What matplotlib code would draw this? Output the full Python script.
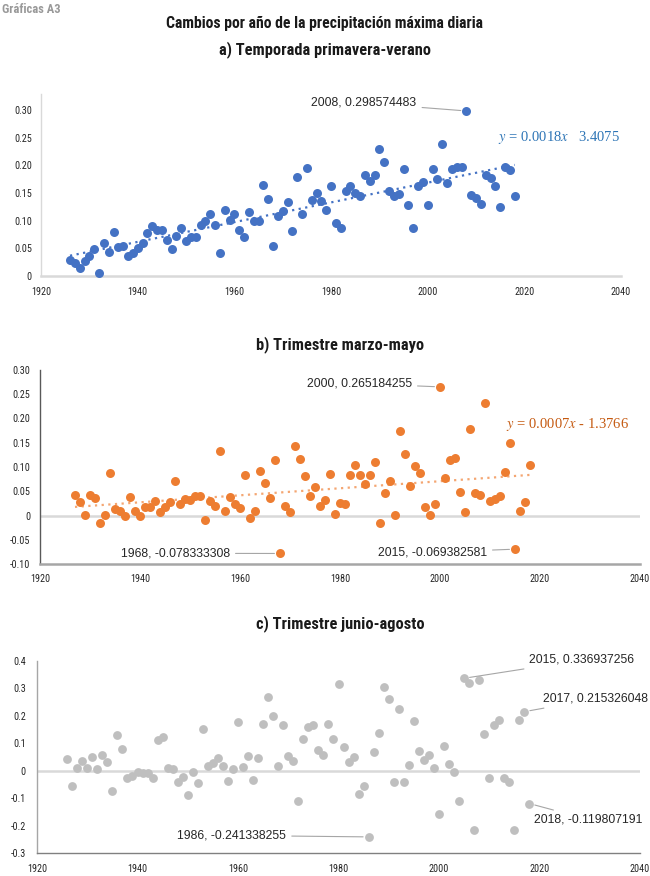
import matplotlib
matplotlib.use('Agg')
import matplotlib.pyplot as plt
import numpy as np

# ---- data ----
years_a = list(range(1926, 2019))
vals_a = [0.029, 0.024, 0.014, 0.028, 0.037, 0.049, 0.006, 0.060, 0.044, 0.080,
          0.053, 0.054, 0.036, 0.041, 0.051, 0.060, 0.077, 0.090, 0.083, 0.084,
          0.065, 0.049, 0.072, 0.087, 0.063, 0.071, 0.071, 0.092, 0.100, 0.112,
          0.093, 0.041, 0.120, 0.101, 0.112, 0.084, 0.071, 0.115, 0.100, 0.099,
          0.165, 0.140, 0.055, 0.109, 0.118, 0.134, 0.081, 0.179, 0.112, 0.195,
          0.138, 0.151, 0.136, 0.119, 0.163, 0.095, 0.087, 0.154, 0.162, 0.150,
          0.145, 0.182, 0.172, 0.183, 0.229, 0.206, 0.154, 0.144, 0.148, 0.194,
          0.128, 0.087, 0.162, 0.170, 0.128, 0.193, 0.176, 0.239, 0.168, 0.194,
          0.197, 0.198, 0.2986, 0.146, 0.142, 0.131, 0.182, 0.177, 0.162, 0.124,
          0.197, 0.192, 0.144]

years_b = list(range(1927, 2019))
vals_b = [0.0425, 0.028, 0.002, 0.043, 0.036, -0.016, 0.0014, 0.0885, 0.0137, 0.0103,
          0.000, 0.039, 0.009, -0.001, 0.018, 0.0185, 0.029, 0.0076, 0.018, 0.028,
          0.072, 0.0247, 0.035, 0.0315, 0.041, 0.041, -0.0103, 0.030, 0.020, 0.133,
          0.009, 0.0384, 0.023, 0.015, 0.084, -0.0055, 0.009, 0.091, 0.068, 0.036,
          0.115, -0.0783, 0.020, 0.0069, 0.1427, 0.1166, 0.0816, 0.041, 0.0597, 0.0206,
          0.031, 0.085, 0.0034, 0.026, 0.023, 0.083, 0.105, 0.083, 0.0645, 0.083,
          0.110, -0.0158, 0.046, 0.0713, 0.002, 0.175, 0.126, 0.061, 0.103, 0.088,
          0.017, 0.0014, 0.023, 0.2652, 0.0775, 0.114, 0.118, 0.049, 0.0069, 0.178,
          0.047, 0.042, 0.231, 0.029, 0.034, 0.0398, 0.090, 0.1495, -0.0694, 0.0103,
          0.0274, 0.105]

years_c = list(range(1926, 2019))
vals_c = [0.0436, -0.057, 0.0085, 0.0364, 0.0085, 0.050, 0.006, 0.057, 0.0327, -0.074,
          0.132, 0.079, -0.0267, -0.018, -0.0036, -0.007, -0.0097, -0.0267, 0.1115, 0.1224,
          0.0085, 0.0073, -0.040, -0.0218, -0.0897, -0.006, -0.0448, 0.1515, 0.0158, 0.0267,
          0.0448, 0.0158, -0.036, 0.0073, 0.177, 0.012, 0.052, -0.033, 0.045, 0.172,
          0.269, 0.200, 0.0158, 0.168, 0.052, 0.034, -0.110, 0.115, 0.159, 0.165,
          0.076, 0.059, 0.170, 0.115, 0.316, 0.085, 0.0315, 0.050, -0.086, -0.056,
          -0.2413, 0.070, 0.138, 0.305, 0.263, -0.0424, 0.2267, -0.0424, 0.0194, 0.183,
          0.0727, 0.0376, 0.057, 0.0085, -0.159, 0.091, 0.024, -0.0036, -0.109, 0.337,
          0.321, -0.216, 0.332, 0.133, -0.0255, 0.166, 0.184, -0.028, -0.040, -0.2145,
          0.184, 0.2153, -0.1198]

xticks = [1920, 1940, 1960, 1980, 2000, 2020, 2040]
yticks_a = [0, 0.05, 0.10, 0.15, 0.20, 0.25, 0.30]
ylabels_a = ['0', '0.05', '0.10', '0.15', '0.20', '0.25', '0.30']
yticks_b = [-0.10, -0.05, 0, 0.05, 0.10, 0.15, 0.20, 0.25, 0.30]
ylabels_b = ['-0.10', '-0.05', '0', '0.05', '0.10', '0.15', '0.20', '0.25', '0.30']
yticks_c = [-0.3, -0.2, -0.1, 0, 0.1, 0.2, 0.3, 0.4]
ylabels_c = ['-0.3', '-0.2', '-0.1', '0', '0.1', '0.2', '0.3', '0.4']

# (text, point year, point value, text year, text value, ha)
notes_a = [('2008, 0.298574483', 2008, 0.2986, 1997.7, 0.313, 'right')]
notes_b = [('2000, 0.265184255', 2000, 0.2652, 1994.4, 0.272, 'right'),
           ('1968, -0.078333308', 1968, -0.0783, 1958.0, -0.078, 'right'),
           ('2015, -0.069382581', 2015, -0.0694, 2009.4, -0.076, 'right')]
notes_c = [('2015, 0.336937256', 2005, 0.337, 2018.0, 0.404, 'left'),
           ('2017, 0.215326048', 2017, 0.2153, 2020.6, 0.262, 'left'),
           ('2018, -0.119807191', 2018, -0.1198, 2019.0, -0.178, 'left'),
           ('1986, -0.241338255', 1986, -0.2413, 1969.6, -0.236, 'right')]

BLUE = '#4472C4'
ORANGE = '#ED7D31'
GRAY = '#BFBFBF'
HEAD = ['Roboto Condensed', 'Roboto', 'DejaVu Sans']
TICKF = ['Roboto Condensed', 'Roboto', 'DejaVu Sans']
LABELF = ['Liberation Sans', 'DejaVu Sans']
SERIF = ['Liberation Serif', 'DejaVu Serif']

plt.rcParams['mathtext.fontset'] = 'stix'

fig = plt.figure(figsize=(6.5, 8.76), dpi=100)


def style_axes(ax, yt, yl, xpad, ypad, left_col, bottom_col, bottom_lw):
	ax.set_xlim(1920, 2040)
	ax.set_xticks(xticks)
	ax.set_xticklabels([str(x) for x in xticks], family=TICKF, fontsize=7.3, color='#262626')
	ax.set_yticks(yt)
	ax.set_yticklabels(yl, family=TICKF, fontsize=7.3, color='#262626')
	ax.tick_params(axis='x', length=0, pad=xpad)
	ax.tick_params(axis='y', length=0, pad=ypad)
	for s in ['top', 'right']:
		ax.spines[s].set_visible(False)
	ax.spines['left'].set_color(left_col)
	ax.spines['left'].set_linewidth(1.0)
	ax.spines['bottom'].set_color(bottom_col)
	ax.spines['bottom'].set_linewidth(bottom_lw)
	ax.patch.set_alpha(0)


def add_notes(ax, notes):
	for (txt, px, py, tx, ty, ha) in notes:
		ax.annotate(txt, xy=(px, py), xytext=(tx, ty), ha=ha, va='center',
			fontsize=8.8, family=LABELF, color='#262626',
			arrowprops=dict(arrowstyle='-', color='#a6a6a6', lw=0.8, shrinkA=2, shrinkB=4),
			annotation_clip=False)


def trend(ax, xs, ys, col):
	k, b = np.polyfit(xs, ys, 1)
	xx = np.array([xs[0], xs[-1]])
	ax.plot(xx, k * xx + b, linestyle=(0, (1, 2)), color=col, lw=1.6, zorder=2)


# ---- titles ----
fig.text(0.003, 0.989, 'Gráficas A3', family=HEAD, fontsize=9, fontweight='bold',
	color='#999999', va='center', ha='left')
fig.text(0.5, 0.973, 'Cambios por año de la precipitación máxima diaria', family=HEAD,
	fontsize=11.3, fontweight='bold', ha='center', va='center', color='#1a1a1a')
fig.text(0.5, 0.943, 'a) Temporada primavera-verano', family=HEAD,
	fontsize=11.8, fontweight='bold', ha='center', va='center', color='#1a1a1a')
fig.text(0.523, 0.607, 'b) Trimestre marzo-mayo', family=HEAD,
	fontsize=11.8, fontweight='bold', ha='center', va='center', color='#1a1a1a')
fig.text(0.523, 0.288, 'c) Trimestre junio-agosto', family=HEAD,
	fontsize=11.8, fontweight='bold', ha='center', va='center', color='#1a1a1a')

# ---- panel a ----
ax1 = fig.add_axes([41 / 650, 1 - 276 / 876, (621 - 41) / 650, (276 - 93.6) / 876])
ax1.set_ylim(0, 0.33)
style_axes(ax1, yticks_a, ylabels_a, 8, 6.5, '#d9d9d9', '#d9d9d9', 1.8)
ax1.scatter(years_a, vals_a, s=42, color=BLUE, zorder=3, clip_on=False, linewidths=0)
trend(ax1, years_a, vals_a, BLUE)
add_notes(ax1, notes_a)
ax1.text(2014.6, 0.25, r'$y$ = 0.0018$x$   3.4075', family=SERIF,
	fontsize=10.5, color='#2E75B6', ha='left', va='center')

# ---- panel b ----
ax2 = fig.add_axes([40 / 650, 1 - 564 / 876, (640 - 40) / 650, (564 - 370) / 876])
ax2.set_ylim(-0.10, 0.30)
style_axes(ax2, yticks_b, ylabels_b, 7, 7, '#595959', '#a6a6a6', 1.8)
ax2.axhline(0, color='#d9d9d9', lw=1.8, zorder=1)
ax2.scatter(years_b, vals_b, s=42, color=ORANGE, zorder=3, clip_on=False, linewidths=0)
trend(ax2, years_b, vals_b, '#F4A672')
add_notes(ax2, notes_b)
ax2.text(2013.2, 0.187, r'$y$ = 0.0007$x$ - 1.3766', family=SERIF,
	fontsize=10.5, color='#C55A11', ha='left', va='center')

# ---- panel c ----
ax3 = fig.add_axes([37 / 650, 1 - 853 / 876, (640 - 37) / 650, (853 - 661) / 876])
ax3.set_ylim(-0.3, 0.4)
style_axes(ax3, yticks_c, ylabels_c, 8, 8, '#a6a6a6', '#808080', 1.0)
ax3.axhline(0, color='#d9d9d9', lw=1.8, zorder=1)
ax3.scatter(years_c, vals_c, s=40, color=GRAY, zorder=3, clip_on=False, linewidths=0)
add_notes(ax3, notes_c)

plt.savefig('out.png', dpi=100)
